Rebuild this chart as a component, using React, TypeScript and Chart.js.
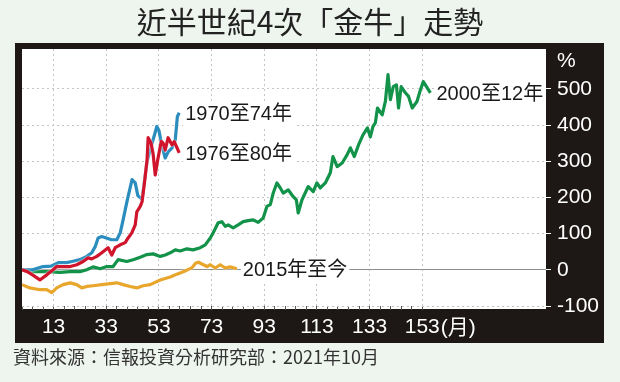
import React, { useEffect, useRef } from 'react';
import { Chart, registerables } from 'chart.js';

Chart.register(...registerables);

const TITLE = '近半世紀4次「金牛」走勢';
const SOURCE = '資料來源：信報投資分析研究部：2021年10月';
const UNIT_Y = '%';
const UNIT_X = '(月)';

const X_TICK_MONTHS = [13, 33, 53, 73, 93, 113, 133, 153];
const X_MINOR_STEP = 4;
const Y_TICKS = [-100, 0, 100, 200, 300, 400, 500];
const Y_MIN = -100;
const Y_MAX = 610;

// 1970至74年 (blue)
const months1970 = [1, 5, 9, 12, 15, 18, 20, 23, 25.6, 27.5, 28.8, 29.9, 31.3, 33, 35, 37, 38.3, 39.4, 41, 42.8, 44, 45, 46.6, 48.5, 50, 51.6, 52.2, 53, 54.2, 55.4, 56.5, 58, 59.2, 60, 60.7];
const values1970 = [0, 0, 9, 10, 20, 20, 23, 28, 37, 47, 64, 88, 92, 88, 83, 83, 102, 138, 193, 249, 240, 205, 195, 300, 340, 380, 396, 385, 340, 309, 326, 337, 359, 423, 434];

// 1976至80年 (red)
const months1976 = [1, 3, 5, 7.8, 10.4, 12.8, 14.2, 19.3, 21.8, 24.2, 26.1, 27.5, 29.4, 31.3, 33.7, 35.1, 36.4, 38.3, 40.2, 41.3, 42.7, 44, 44.6, 45.9, 46.6, 47.5, 48.5, 48.9, 50, 50.8, 51.6, 52.7, 53.9, 54.6, 55.4, 56.5, 58, 58.8, 60, 60.7];
const values1976 = [0, -5, -14, -28, -14, 0, 9, 9, 14, 23, 33, 30, 37, 47, 61, 41, 61, 69, 75, 88, 102, 124, 160, 175, 188, 240, 304, 365, 350, 320, 262, 310, 355, 350, 331, 365, 345, 354, 335, 323];

// 2000至12年 (green)
const months2000 = [1, 4, 5.2, 10.4, 15.4, 19.3, 23, 25.6, 28, 30.7, 33.2, 35.6, 37.5, 40.8, 43.2, 45.9, 48.4, 50.8, 53.5, 55.4, 57.3, 59.2, 61.1, 63.6, 66, 68.7, 70.6, 72.5, 73.6, 75.5, 76.9, 78.2, 79.3, 81.2, 83.1, 85, 86.9, 88.8, 90.7, 92.6, 94, 95.3, 96.4, 97.8, 99.1, 100.2, 102.1, 104, 105.2, 105.9, 107.3, 109.7, 111.6, 113, 114.3, 116.2, 118.1, 119.1, 120.7, 122.6, 124.5, 125.7, 127.2, 128.8, 130.5, 132.2, 133.3, 134.3, 135.2, 136, 137.8, 139, 140, 140.9, 142, 143.2, 144, 145, 146.6, 147.8, 149.2, 151, 152.3, 153.4, 154.6, 156.1];
const values2000 = [0, 0, -5, -5, -7, -5, -5, 0, 8, 3, 9, 9, 28, 23, 28, 35, 42, 44, 37, 41, 47, 55, 52, 58, 55, 61, 69, 88, 102, 130, 133, 120, 124, 116, 124, 133, 136, 138, 131, 143, 175, 180, 212, 240, 226, 212, 221, 202, 193, 157, 193, 230, 216, 240, 226, 240, 268, 313, 285, 295, 318, 337, 313, 345, 373, 392, 367, 396, 406, 447, 428, 465, 539, 470, 506, 511, 447, 506, 489, 479, 447, 465, 497, 520, 506, 489];

// 2015年至今 (gold)
const months2015 = [1, 4, 7.8, 10.4, 12.3, 14.2, 16.6, 19.3, 21.8, 23.7, 25.6, 28, 31.3, 33.7, 37, 39.4, 42.1, 44.6, 47, 49.7, 53.5, 57.3, 59.8, 63, 65.6, 66.9, 68, 69.9, 71.3, 72.5, 74.4, 76.3, 78.2, 80.1, 82.6];
const values2015 = [-41, -50, -55, -55, -63, -50, -41, -36, -41, -50, -46, -44, -41, -39, -36, -41, -46, -50, -44, -41, -28, -20, -12, -3, 6, 18, 21, 14, 9, 14, 5, 14, 5, 8, 3];

const SERIES_LABELS = ['1976至80年', '1970至74年', '2000至12年', '2015年至今'];

const FONT_NUM = "'Liberation Sans Narrow', 'Arial Narrow', 'Liberation Sans', 'Noto Sans CJK TC', sans-serif";
const FONT_LABEL = "'Liberation Sans', 'Noto Sans CJK TC', sans-serif";
const FONT_CJK = "'Noto Sans CJK TC', sans-serif";

const zip = (xs: number[], ys: number[]) => xs.map((x, i) => ({ x, y: ys[i] }));

const haloPlugin = {
  id: 'halo',
  beforeDatasetDraw(chart: any) {
    const ctx = chart.ctx;
    ctx.save();
    ctx.shadowColor = 'rgba(255,255,255,1)';
    ctx.shadowBlur = 2;
  },
  afterDatasetDraw(chart: any) {
    chart.ctx.restore();
  },
};

const decorPlugin = {
  id: 'decor',
  beforeDraw(chart: any) {
    const { ctx, chartArea: a, width, height } = chart;
    ctx.save();
    ctx.fillStyle = '#eef5ef';
    ctx.fillRect(0, 0, width, height);
    ctx.fillStyle = '#1d1715';
    ctx.fillRect(15, 43, 589, 300);
    ctx.fillStyle = '#ffffff';
    ctx.fillRect(a.left, a.top, a.right - a.left, a.bottom - a.top + 3);
    ctx.fillStyle = '#222222';
    ctx.font = `30px ${FONT_CJK}`;
    ctx.textAlign = 'center';
    ctx.textBaseline = 'middle';
    ctx.fillText(TITLE, width / 2, 22);
    ctx.font = `18px ${FONT_CJK}`;
    ctx.textAlign = 'left';
    ctx.fillStyle = '#333333';
    ctx.fillText(SOURCE, 13, 357);
    ctx.restore();
  },
  afterDatasetsDraw(chart: any) {
    const ctx = chart.ctx;
    ctx.save();
    ctx.font = `20px ${FONT_LABEL}`;
    ctx.textAlign = 'left';
    ctx.textBaseline = 'middle';
    chart.data.datasets.forEach((ds: any, i: number) => {
      const meta = chart.getDatasetMeta(i);
      const last = meta.data[meta.data.length - 1];
      if (!last) return;
      const x = last.x + 6;
      const y = last.y + 2;
      const text = ds.label;
      const w = ctx.measureText(text).width;
      ctx.fillStyle = '#ffffff';
      ctx.fillRect(x - 2, y - 12, w + 4, 24);
      ctx.fillStyle = '#1a1a1a';
      ctx.fillText(text, x, y);
    });
    ctx.restore();
  },
  afterDraw(chart: any) {
    const ctx = chart.ctx;
    const xs = chart.scales.x;
    const ys = chart.scales.y;
    ctx.save();
    ctx.fillStyle = '#ffffff';
    ctx.font = `21px ${FONT_NUM}`;
    ctx.textBaseline = 'middle';
    ctx.textAlign = 'left';
    ctx.fillText(UNIT_Y, ys.left + 11, 61);
    const lastTick = X_TICK_MONTHS[X_TICK_MONTHS.length - 1];
    const px = xs.getPixelForValue(lastTick);
    const w = ctx.measureText(String(lastTick)).width;
    ctx.fillText(UNIT_X, px + w / 2 + 1, 328);
    ctx.restore();
  },
};

export default function App() {
  const ref = useRef<HTMLCanvasElement | null>(null);
  useEffect(() => {
    document.body.style.margin = '0';
    const canvas = ref.current;
    if (!canvas) return;
    const minorTicks: number[] = [];
    for (let m = 1; m <= X_TICK_MONTHS[X_TICK_MONTHS.length - 1]; m += X_MINOR_STEP) minorTicks.push(m);
    const chart = new Chart(canvas, {
      type: 'line',
      data: {
        datasets: [
          { label: SERIES_LABELS[0], data: zip(months1976, values1976), borderColor: '#d0142c' },
          { label: SERIES_LABELS[1], data: zip(months1970, values1970), borderColor: '#2b8dbd' },
          { label: SERIES_LABELS[2], data: zip(months2000, values2000), borderColor: '#13934a' },
          { label: SERIES_LABELS[3], data: zip(months2015, values2015), borderColor: '#e8a62c' },
        ],
      },
      options: {
        responsive: false,
        animation: false,
        devicePixelRatio: 1,
        layout: { padding: { left: 22, top: 49, right: 0, bottom: 0 } },
        elements: {
          line: { borderWidth: 3.2, tension: 0, borderJoinStyle: 'round', fill: false },
          point: { radius: 0, hoverRadius: 0 },
        },
        plugins: {
          legend: { display: false },
          tooltip: { enabled: false },
          title: { display: false },
        },
        scales: {
          x: {
            type: 'linear',
            min: 1,
            max: 200,
            afterBuildTicks: (s: any) => {
              s.ticks = minorTicks.map((v) => ({ value: v }));
            },
            afterFit: (s: any) => {
              s.height = 76;
            },
            ticks: {
              autoSkip: false,
              maxRotation: 0,
              color: '#ffffff',
              padding: 5,
              font: { family: FONT_NUM, size: 21 },
              callback: (v: any) => (X_TICK_MONTHS.includes(Number(v)) ? String(v) : ''),
            },
            grid: {
              color: (c: any) => (c.tick && X_TICK_MONTHS.includes(c.tick.value) ? '#c4c4c4' : 'rgba(0,0,0,0)'),
              lineWidth: 1,
              tickColor: '#555555',
              tickLength: 4,
            },
            border: { display: false, dash: [2, 3] },
          },
          y: {
            type: 'linear',
            position: 'right',
            min: Y_MIN,
            max: Y_MAX,
            afterBuildTicks: (s: any) => {
              s.ticks = Y_TICKS.map((v) => ({ value: v }));
            },
            afterFit: (s: any) => {
              s.width = 74;
            },
            ticks: {
              autoSkip: false,
              color: '#ffffff',
              padding: 6,
              font: { family: FONT_NUM, size: 21 },
              callback: (v: any) => String(v),
            },
            grid: {
              color: (c: any) => (c.tick && c.tick.value === 0 ? '#8c8c8c' : '#c4c4c4'),
              lineWidth: 1,
              tickColor: '#ffffff',
              tickLength: 5,
            },
            border: { display: false, dash: (c: any) => (c.tick && c.tick.value === 0 ? [] : [2, 3]) },
          },
        },
      },
      plugins: [decorPlugin, haloPlugin],
    } as any);
    return () => chart.destroy();
  }, []);
  return (
    <div style={{ width: 620, height: 382 }}>
      <canvas ref={ref} width={620} height={382} style={{ display: 'block' }} />
    </div>
  );
}
